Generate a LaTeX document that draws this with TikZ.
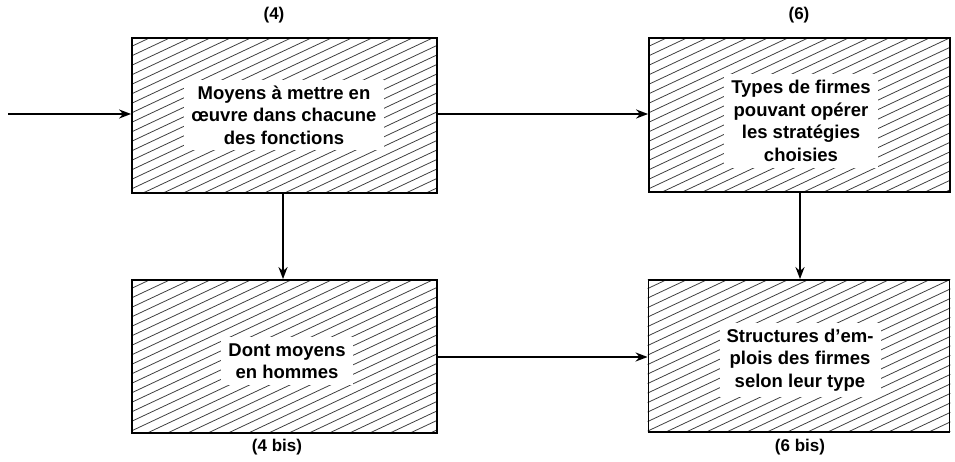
\documentclass[tikz,border=0pt]{standalone}
\usepackage{fontspec}
\setmainfont{Liberation Sans}
\usetikzlibrary{arrows.meta,backgrounds,calc}
\begin{document}
\begin{tikzpicture}[x=1pt,y=-1pt,
  box/.style={draw=black,line width=1.8pt,minimum width=#1,inner sep=0pt},
  txt/.style={fill=white,align=center,inner xsep=7pt,inner ysep=6pt,font=\bfseries\fontsize{18.5}{22.5}\selectfont},
  lbl/.style={font=\bfseries\fontsize{17}{19}\selectfont,inner sep=0pt},
  arr/.style={line width=2.4pt,-{Stealth[length=12pt,width=9pt]}},
  hatch/.style={line width=0.8pt,black!75}]
\useasboundingbox (0,0) rectangle (955,462);
\node[box=305pt,minimum height=155pt] (b1) at (284.5,115.5) {};
\node[box=301pt,minimum height=154pt] (b2) at (799.5,115) {};
\node[box=305pt,minimum height=153pt] (b3) at (284.5,356.5) {};
\node[box=301pt,minimum height=152pt] (b4) at (799,356) {};
\begin{scope}[on background layer]
\foreach \b in {b1,b2,b3,b4}{
  \begin{scope}
  \clip (\b.south west) rectangle (\b.north east);
  \foreach \k in {0,...,36}{
    \draw[hatch] ($(\b.north west)+(0,\k*9.5)$) -- ++(330,-155);
  }
  \end{scope}
}
\end{scope}
\node[txt] (t1) at (284,115) {Moyens à mettre en\\œuvre dans chacune\\des fonctions};
\node[txt] (t2) at (801,121) {Types de firmes\\pouvant opérer\\les stratégies\\choisies};
\node[txt] (t3) at (287,361) {Dont moyens\\en hommes};
\node[txt] (t4) at (800,360) {Structures d’em-\\plois des firmes\\selon leur type};
\node[lbl] (l1) at (274,15) {(4)};
\node[lbl] (l2) at (799,15) {(6)};
\node[lbl] (l3) at (277,447) {(4 bis)};
\node[lbl] (l4) at (800,447) {(6 bis)};
\coordinate (in) at (8,114);
\coordinate (v1) at (283,0);
\coordinate (v2) at (800,0);
\coordinate (h2) at (0,357);
\draw[arr] (in) -- (b1.west |- in);
\draw[arr] (b1.east |- in) -- (b2.west |- in);
\draw[arr] (b1.south -| v1) -- (b3.north -| v1);
\draw[arr] (b2.south -| v2) -- (b4.north -| v2);
\draw[arr] (b3.east |- h2) -- (b4.west |- h2);
\end{tikzpicture}
\end{document}
